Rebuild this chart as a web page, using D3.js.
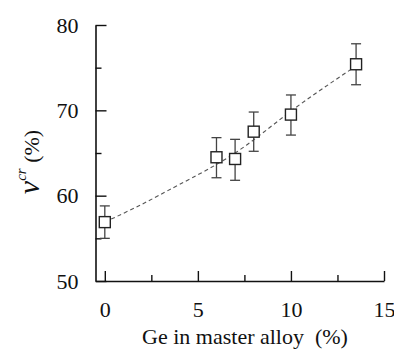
<!DOCTYPE html>
<html><head><meta charset="utf-8">
<script src="https://cdn.jsdelivr.net/npm/d3@7"></script>
<style>body{margin:0;background:#fff;} svg{display:block;}</style>
</head><body><svg id="c" width="394" height="349"></svg>
<script>
const geX = [0, 6, 7, 8, 10, 13.5];
const vcr = [56.9, 64.5, 64.3, 67.5, 69.5, 75.4];
const errUp = [1.9, 2.3, 2.3, 2.3, 2.3, 2.4];
const errDown = [1.9, 2.4, 2.5, 2.3, 2.4, 2.4];
const fitX = [0, 2, 4, 7, 10, 13.5];
const fitY = [56.9, 59.0, 61.3, 65.0, 69.9, 75.2];
const xMajor = [0, 5, 10, 15];
const xMinor = [2.5, 7.5, 12.5];
const yMajor = [50, 60, 70, 80];
const yMinor = [55, 65, 75];

const FONT = "'Liberation Serif'";
const svg = d3.select("#c");
const x = d3.scaleLinear().domain([-0.5, 15]).range([95.5, 384]);
const y = d3.scaleLinear().domain([50, 80]).range([281, 25]);

// axes
const xAxis = d3.axisBottom(x).tickValues(xMajor).tickSize(-10).tickPadding(20).tickSizeOuter(0).tickFormat(d3.format("d"));
const gx = svg.append("g").attr("transform", `translate(0,${y(50)})`).call(xAxis);
gx.selectAll(".tick line").attr("stroke", "#111").attr("stroke-width", 1.4);
gx.select(".domain").attr("stroke", "#111").attr("stroke-width", 1.6);
gx.selectAll(".tick text").attr("font-size", 22).attr("fill", "#111").attr("dy", "0.71em");
svg.append("g").attr("transform", `translate(0,${y(50)})`)
  .call(d3.axisBottom(x).tickValues(xMinor).tickSize(-6).tickFormat(""))
  .call(g => g.select(".domain").remove())
  .selectAll(".tick line").attr("stroke", "#111").attr("stroke-width", 1.4);

const yAxis = d3.axisLeft(y).tickValues(yMajor).tickSize(-11).tickPadding(17).tickSizeOuter(0);
const gy = svg.append("g").attr("transform", `translate(${x(-0.5)},0)`).call(yAxis);
gy.selectAll(".tick line").attr("stroke", "#111").attr("stroke-width", 1.4);
gy.select(".domain").attr("stroke", "#111").attr("stroke-width", 1.6);
gy.selectAll(".tick text").attr("font-size", 22).attr("fill", "#111");
svg.append("g").attr("transform", `translate(${x(-0.5)},0)`)
  .call(d3.axisLeft(y).tickValues(yMinor).tickSize(-6).tickFormat(""))
  .call(g => g.select(".domain").remove())
  .selectAll(".tick line").attr("stroke", "#111").attr("stroke-width", 1.4);

// fit curve
const fit = fitX.map((d, i) => [d, fitY[i]]);
svg.append("path").datum(fit)
  .attr("d", d3.line().x(d => x(d[0])).y(d => y(d[1])).curve(d3.curveNatural))
  .attr("fill", "none").attr("stroke", "#555").attr("stroke-width", 1.1)
  .attr("stroke-dasharray", "4,3");

// error bars
const data = geX.map((d, i) => ({x: d, y: vcr[i], up: errUp[i], dn: errDown[i]}));
const eb = svg.append("g").attr("stroke", "#444").attr("stroke-width", 1.3);
data.forEach(d => {
  const cx = x(d.x);
  eb.append("line").attr("x1", cx).attr("x2", cx).attr("y1", y(d.y + d.up)).attr("y2", y(d.y - d.dn));
  eb.append("line").attr("x1", cx - 5).attr("x2", cx + 5).attr("y1", y(d.y + d.up)).attr("y2", y(d.y + d.up));
  eb.append("line").attr("x1", cx - 5).attr("x2", cx + 5).attr("y1", y(d.y - d.dn)).attr("y2", y(d.y - d.dn));
});
// markers
svg.append("g").selectAll("rect").data(data).join("rect")
  .attr("x", d => x(d.x) - 5.5).attr("y", d => y(d.y) - 5.5)
  .attr("width", 11).attr("height", 11)
  .attr("fill", "#fff").attr("stroke", "#222").attr("stroke-width", 1.4);

// axis labels
svg.append("text").attr("x", 245).attr("y", 344).attr("text-anchor", "middle")
  .attr("font-size", 22).attr("fill", "#111").style("white-space", "pre")
  .text("Ge in master alloy  (%)");

const yl = svg.append("text").attr("transform", "translate(39,162) rotate(-90)")
  .attr("text-anchor", "middle").attr("font-size", 22).attr("fill", "#111");
yl.append("tspan").attr("font-style", "italic").attr("font-size", 30).text("v");
yl.append("tspan").attr("font-style", "italic").attr("font-size", 15).attr("dy", -13).text("cr");
yl.append("tspan").attr("dy", 13).text(" (%)");

svg.selectAll("text").style("font-family", FONT).attr("font-family", null);
svg.selectAll("g").attr("font-family", null);
</script></body></html>
